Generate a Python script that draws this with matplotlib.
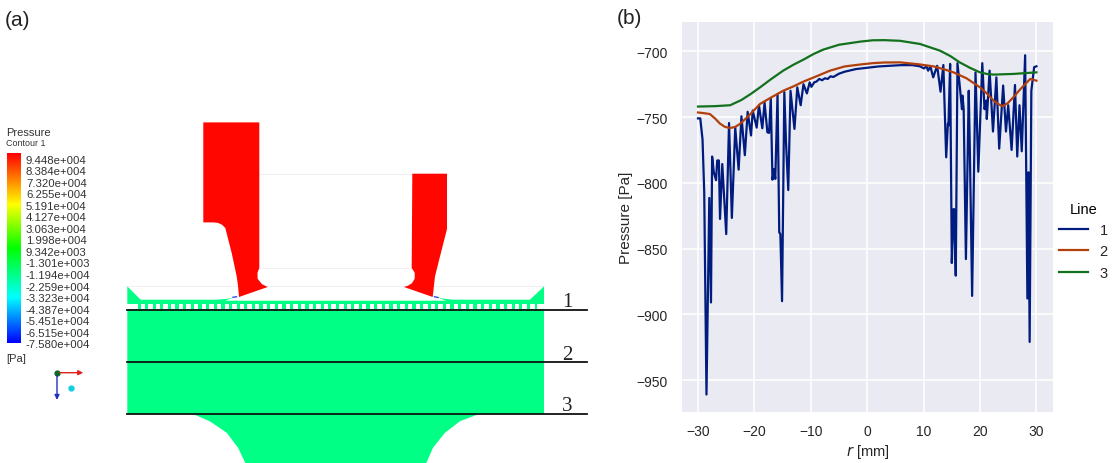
# no display in the sandbox
import matplotlib
matplotlib.use('agg')
import numpy as np
import matplotlib.pyplot as plt
from matplotlib.colors import LinearSegmentedColormap
from matplotlib.patches import Polygon, Rectangle

plt.rcParams['font.family'] = ['Liberation Sans', 'DejaVu Sans']

W, H = 1117, 464

# (b) pressure along the three lines
r1 = [-30, -29.6, -29.2, -28.9, -28.5, -28.0, -27.7, -27.5, -27.2, -26.8, -26.6, -26.3, -26.1, -25.7,
      -25.0, -24.5, -24.0, -23.4, -22.8, -22.3, -21.7, -21.2, -20.6, -20.3, -19.6, -19.2, -18.6, -18.2,
      -17.7, -17.4, -17.1, -16.8, -16.5, -16.3, -15.9, -15.6, -15.4, -15.1, -14.7, -14.4, -14.0, -13.6,
      -12.9, -12.4, -11.8, -11.3, -10.7, -10.2, -9.9, -9.4, -9.0, -8.5, -8.0, -7.5, -7.0, -6.5, -6.0,
      -5.0, -4.0, -3.0, -2.0, -1.0, 0, 2, 4, 6, 8, 9.35, 10.06, 10.5, 10.8, 11.2, 11.7, 12.4, 13.0, 13.5,
      14.0, 14.3, 14.4, 14.7, 15.0, 15.3, 15.4, 15.7, 16.0, 16.4, 16.8, 16.9, 17.1, 17.5, 18.0, 18.2,
      18.6, 19.2, 19.7, 20.4, 20.8, 21.1, 21.2, 21.7, 22.3, 22.9, 23.4, 24.1, 24.6, 25.0, 25.6, 26.2,
      26.6, 27.0, 27.4, 28.0, 28.4, 28.6, 28.8, 29.1, 29.6, 30]
p1 = [-751, -751, -767, -807, -961, -811.5, -891, -780, -792, -798, -783, -783, -827.5, -785.7,
      -839, -754.5, -826.7, -758, -790, -749.4, -779, -746, -764, -745, -758, -741, -758.5, -739,
      -761.6, -762, -735.5, -797.6, -789.5, -797, -732.4, -837.6, -839, -890, -731, -769, -805.5, -730,
      -759, -727.4, -741, -725, -732, -723.6, -727, -723.6, -723, -721, -722, -720.5, -721, -719, -719.5,
      -717, -715.5, -714.5, -713.5, -713, -712.5, -711.5, -711, -710.5, -710.5, -711.4, -713, -711.4,
      -714.7, -711.4, -719.8, -711, -730.7, -710.4, -780.6, -755, -756.5, -709.6, -861, -820, -820,
      -870.6, -709, -726, -744, -733.7, -744, -858, -730, -775.5, -886, -716, -791.5, -709, -744,
      -737.5, -751.5, -714.7, -761, -719.8, -774, -726, -761, -741, -775, -725.6, -780, -741, -776,
      -703, -888, -792, -921, -730, -712, -711.4]

r2 = [-30, -29, -27.9, -27, -26.1, -25.2, -24.3, -23.4, -22.5, -21, -19, -17, -14.9, -13, -11.3, -9, -6.6,
      -4, -1.2, 1, 3, 5.8, 9, 11.7, 13.5, 15.3, 17.6, 20, 21.2, 22.4, 23.2, 24, 24.9, 25.9, 27, 28, 28.9, 30]
p2 = [-746.5, -747, -747.7, -751, -755, -757.5, -758.3, -757.5, -755, -749, -740, -735, -730, -726.5, -723,
      -719, -714.7, -711.5, -710, -709, -708.5, -708.4, -709.8, -711.4, -713.5, -716, -720.5, -727.4, -732,
      -737.5, -740, -741.8, -739.5, -735, -729.5, -725, -721, -722.3]

r3 = [-30, -27, -24.3, -22.3, -20.5, -19, -17, -14.9, -13, -11.3, -9.5, -7.8, -5, -1.2, 1, 3, 5.8, 9.35, 12.9,
      14.7, 16.4, 18.2, 20, 21.2, 22.4, 25.9, 30]
p3 = [-742, -741.7, -741, -737, -732, -727.4, -721, -714.7, -710, -706.3, -702, -698.7, -695, -692.6, -691.6,
      -691.5, -692, -694.4, -699.5, -703.5, -708.4, -712.5, -716, -717.2, -717.7, -717.2, -716]

r_ticks = [-30, -20, -10, 0, 10, 20, 30]
p_ticks = [-700, -750, -800, -850, -900, -950]
line_names = ['1', '2', '3']
line_colors = ['#001c7f', '#b1400d', '#12711c']

# (a) contour legend
contour_labels = ['9.448e+004', '8.384e+004', '7.320e+004', '6.255e+004', '5.191e+004', '4.127e+004',
                  '3.063e+004', '1.998e+004', '9.342e+003', '-1.301e+003', '-1.194e+004', '-2.259e+004',
                  '-3.323e+004', '-4.387e+004', '-5.451e+004', '-6.515e+004', '-7.580e+004']

# (a) outlines, in picture pixels
red_left = [(203.3, 122.7), (259.3, 122.7), (259.3, 268.3), (257.5, 273), (257.6, 279), (262, 284.5), (267.7, 287.3),
            (239, 297.3), (238, 286), (236.7, 276.7), (231.7, 253.3), (225.3, 228.3), (222, 225), (218, 223.2),
            (213.3, 222.7), (203.3, 222.7)]
red_right = [(412.3, 174), (447, 174), (447, 229.3), (440, 256.7), (435, 276.7), (432.7, 297.3), (404, 287.3),
             (408, 286), (412, 283.5), (414.7, 279), (414.7, 273), (411.7, 268.3)]
green_top = [(127.3, 286.7), (140.7, 300), (216.7, 300), (228, 299), (235, 297.3), (225, 301), (446, 301),
             (436.7, 297.3), (444, 299), (453, 300), (530, 300), (544, 286.7), (544, 304.5), (127.3, 304.5)]
green_body = [(127.3, 309), (544, 309), (544, 414.3), (479, 414.3), (460, 421.5), (445, 433), (433, 448), (426, 464),
              (245.7, 464), (238, 448), (226.7, 433), (210, 421.7), (193, 414.3), (127.3, 414.3)]
cut_lines = [(310.3, '1', 302), (362.3, '2', 354.5), (414.3, '3', 406)]
pale_lines = [(259, 412, 174), (259, 412, 268), (127, 544, 286.7)]

fig = plt.figure(figsize=(W / 100, H / 100), dpi=100)

# panel (a) is drawn straight in pixel coordinates
ax_a = fig.add_axes([0, 0, 1, 1])
ax_a.axis('off')

GREEN = '#00ff85'
RED = '#ff0600'
for x0, x1, y in pale_lines:
    ax_a.plot([x0, x1], [y, y], color='#f0f0f0', lw=0.8, zorder=1)
ax_a.add_patch(Polygon(green_body, closed=True, fc=GREEN, ec='none', zorder=2))
ax_a.add_patch(Polygon(green_top, closed=True, fc=GREEN, ec='none', zorder=2))
ax_a.add_patch(Polygon(red_left, closed=True, fc=RED, ec='none', zorder=3))
ax_a.add_patch(Polygon(red_right, closed=True, fc=RED, ec='none', zorder=3))

# row of channels between the two green parts
ax_a.add_patch(Rectangle((127.3, 304.5), 416.7, 4.5, fc=GREEN, ec='none', zorder=2))
ax_a.add_patch(Rectangle((127.3, 304.5), 10.5, 4.5, fc='white', ec='none', zorder=3))
ax_a.add_patch(Rectangle((537, 304.5), 7, 4.5, fc='white', ec='none', zorder=3))
for hx in np.arange(140.5, 534, 7.64):
    ax_a.add_patch(Rectangle((hx, 304.5), 4.4, 4.5, fc='white', ec='none', zorder=3))

ax_a.plot([233, 236.5], [297.6, 297], color='#3050f0', lw=1, zorder=4)
ax_a.plot([434.5, 438], [297, 297.8], color='#3050f0', lw=1, zorder=4)

for y, name, ty in cut_lines:
    ax_a.plot([127, 586.5], [y, y], color='#111111', lw=1.3, zorder=5)
    ax_a.text(567, ty, name, family='Liberation Serif', fontsize=15, color='#222222', ha='center', va='center')

ax_a.text(5, 19.5, '(a)', fontsize=15, color='#222222', va='center')
ax_a.text(6.5, 132, 'Pressure', fontsize=8, color='#333333', va='center')
ax_a.text(6.5, 142.5, 'Contour 1', fontsize=6.4, color='#333333', va='center')
ax_a.text(6.5, 358, '[Pa]', fontsize=8, color='#333333', va='center')

rainbow = LinearSegmentedColormap.from_list('rainbow_cfx', [(0, '#0000ff'), (0.24, '#00ffff'), (0.5, '#00ff00'),
                                                            (0.73, '#ffff00'), (1, '#ff0000')])
ax_a.imshow(np.linspace(1, 0, 256).reshape(-1, 1), cmap=rainbow, extent=(6.7, 20, 343, 153), aspect='auto', zorder=2)
for lab, ly in zip(contour_labels, np.linspace(160, 344.5, len(contour_labels))):
    ax_a.text(26, ly, lab, fontsize=8.2, color='#333333', va='center')

# orientation triad
ax_a.annotate('', xy=(86, 373), xytext=(57, 373), arrowprops=dict(arrowstyle='-|>', color='#e02020', lw=1, mutation_scale=7))
ax_a.annotate('', xy=(57, 403), xytext=(57, 373), arrowprops=dict(arrowstyle='-|>', color='#2030c0', lw=1, mutation_scale=7))
ax_a.plot([57], [373], 'o', color='#0a6a20', ms=3.5)
ax_a.plot([71], [388], 'o', color='#10d0e0', ms=3.5)

# limits last, imshow and plot move them; the small offset lines the pixels up with the reference
ax_a.set_xlim(0, W)
ax_a.set_ylim(H - 0.7, -0.7)

# panel (b)
ax_b = fig.add_axes([682 / W, 1 - 413 / H, (1053 - 682) / W, (413 - 23) / H])
ax_b.set_facecolor('#eaeaf2')
for s in ax_b.spines.values():
    s.set_visible(False)
ax_b.grid(True, color='white', lw=1.1)
ax_b.set_axisbelow(True)
for r, p, name, col in zip([r1, r2, r3], [p1, p2, p3], line_names, line_colors):
    ax_b.plot(r, p, color=col, lw=1.6, label=name)
ax_b.set_xlim(-32.84, 32.94)
ax_b.set_ylim(-974.3, -677.7)
ax_b.set_xticks(r_ticks)
ax_b.set_yticks(p_ticks)
ax_b.tick_params(axis='x', length=0, labelsize=10, labelcolor='#262626', pad=9)
ax_b.tick_params(axis='y', length=0, labelsize=10, labelcolor='#262626', pad=10.5)
ax_b.set_xlabel('$\\mathit{r}$ [mm]', fontsize=10.5, color='#262626', labelpad=2.5)
ax_b.set_ylabel('Pressure [Pa]', fontsize=11, color='#262626', labelpad=2)

lgd = ax_b.legend(title='Line', frameon=False, loc='center left', bbox_to_anchor=(0.981, 0.439), fontsize=10.5,
                  title_fontsize=10.5, handlelength=1.95, handletextpad=0.82, labelspacing=0.5, labelcolor='#262626')
fig.text(617 / W, 1 - 18.5 / H, '(b)', fontsize=15, color='#222222', va='center')

fig.savefig('out.png', dpi=100)
